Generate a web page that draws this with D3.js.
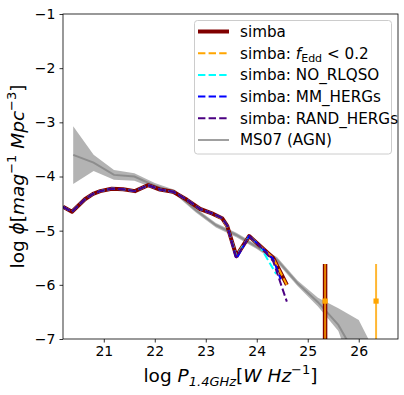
<!DOCTYPE html>
<html><head><meta charset="utf-8">
<script src="https://cdn.jsdelivr.net/npm/d3@7"></script>
<style>body{margin:0;background:#fff} svg{display:block;font-family:"DejaVu Sans",sans-serif}</style>
</head><body><svg id="c" width="404" height="395"></svg>
<script>
// ---- data ----
const simbaX = [20.2, 20.376, 20.63, 20.79, 20.93, 21.155, 21.38, 21.61, 21.87, 22.1, 22.36, 22.63, 22.89, 23.12, 23.32, 23.42, 23.6, 23.85, 24.06, 24.32, 24.59];
const simbaY = [-4.56, -4.65, -4.42, -4.32, -4.27, -4.225, -4.236, -4.27, -4.16, -4.24, -4.28, -4.43, -4.60, -4.68, -4.77, -4.91, -5.47, -5.10, -5.28, -5.50, -6.00];
const fEddX = [20.2, 20.376, 20.63, 20.79, 20.93, 21.155, 21.38, 21.61, 21.87, 22.1, 22.36, 22.63, 22.89, 23.12, 23.32, 23.42, 23.6, 23.85, 24.06, 24.32, 24.59];
const fEddY = [-4.56, -4.65, -4.42, -4.32, -4.27, -4.225, -4.236, -4.27, -4.16, -4.24, -4.28, -4.43, -4.60, -4.68, -4.78, -4.93, -5.47, -5.10, -5.28, -5.50, -6.00];
const noRlqsoX = [20.2, 20.376, 20.63, 20.79, 20.93, 21.155, 21.38, 21.61, 21.87, 22.1, 22.36, 22.63, 22.89, 23.12, 23.32, 23.42, 23.6, 23.85, 24.06, 24.38];
const noRlqsoY = [-4.56, -4.65, -4.42, -4.32, -4.27, -4.225, -4.236, -4.27, -4.16, -4.24, -4.28, -4.43, -4.60, -4.68, -4.77, -4.91, -5.47, -5.10, -5.28, -5.80];
const mmHergsX = [20.2, 20.376, 20.63, 20.79, 20.93, 21.155, 21.38, 21.61, 21.87, 22.1, 22.36, 22.63, 22.89, 23.12, 23.32, 23.42, 23.6, 23.85, 24.06, 24.32, 24.47];
const mmHergsY = [-4.56, -4.65, -4.42, -4.32, -4.27, -4.225, -4.236, -4.27, -4.16, -4.24, -4.28, -4.43, -4.60, -4.68, -4.77, -4.91, -5.52, -5.10, -5.28, -5.52, -5.90];
const randHergsX = [20.2, 20.376, 20.63, 20.79, 20.93, 21.155, 21.38, 21.61, 21.87, 22.1, 22.36, 22.63, 22.89, 23.12, 23.32, 23.42, 23.6, 23.85, 24.06, 24.32, 24.59];
const randHergsY = [-4.56, -4.65, -4.42, -4.32, -4.27, -4.225, -4.236, -4.27, -4.16, -4.24, -4.28, -4.43, -4.60, -4.68, -4.77, -4.91, -5.49, -5.10, -5.28, -5.56, -6.31];
const ms07X  = [20.4, 20.8, 21.2, 21.6, 22.0, 22.4, 22.8, 23.2, 23.6, 24.0, 24.4, 24.8, 25.2, 25.6, 26.0, 26.4];
const ms07Y  = [-3.60, -3.745, -3.97, -4.0, -4.17, -4.29, -4.62, -4.90, -5.08, -5.30, -5.54, -5.97, -6.32, -6.74, -7.4, -8.0];
const ms07Lo = [-4.14, -3.90, -4.06, -4.08, -4.22, -4.33, -4.66, -4.94, -5.12, -5.34, -5.59, -6.02, -6.40, -6.85, -7.9, -8.6];
const ms07Hi = [-3.07, -3.60, -3.88, -3.94, -4.12, -4.25, -4.58, -4.86, -5.04, -5.26, -5.49, -5.92, -6.24, -6.43, -6.65, -7.39];
const simbaErrX = [25.34], simbaErrY = [-6.30], simbaErrHi = [-5.615], simbaErrLo = [-8];
const fEddErrX = [25.34, 26.34], fEddErrY = [-6.30, -6.30], fEddErrHi = [-5.615, -5.615], fEddErrLo = [-8, -8];
const xTicks = [21, 22, 23, 24, 25, 26];
const yTicks = [-1, -2, -3, -4, -5, -6, -7];
const legendLabels = ["simba", "simba: fEdd", "simba: NO_RLQSO", "simba: MM_HERGs", "simba: RAND_HERGs", "MS07 (AGN)"];

// ---- layout ----
const L = 63, R = 398, T = 14, B = 339;
const svg = d3.select("#c");
const x = d3.scaleLinear().domain([20.2, 26.77]).range([L, R]);
const y = d3.scaleLinear().domain([-7, -1]).range([B, T]);

svg.append("clipPath").attr("id", "clip").append("rect")
  .attr("x", L).attr("y", T).attr("width", R - L).attr("height", B - T);
const plot = svg.append("g").attr("clip-path", "url(#clip)");

const zip = (xs, ys) => xs.map((v, i) => [v, ys[i]]);
const line = d3.line().x(d => x(d[0])).y(d => y(d[1]));

// MS07 band + line
const band = ms07X.map((v, i) => ({x: v, lo: ms07Lo[i], hi: ms07Hi[i]}));
plot.append("path").datum(band)
  .attr("d", d3.area().x(d => x(d.x)).y0(d => y(d.lo)).y1(d => y(d.hi)))
  .attr("fill", "#808080").attr("fill-opacity", 0.6);
plot.append("path").datum(zip(ms07X, ms07Y)).attr("d", line)
  .attr("fill", "none").attr("stroke", "#808080").attr("stroke-opacity", 0.75).attr("stroke-width", 2);

// simba lines
const dash = "7.4,3.2";
const series = [
  {xs: simbaX, ys: simbaY, color: "#800000", w: 4, dash: null},
  {xs: fEddX, ys: fEddY, color: "#ffa500", w: 2, dash},
  {xs: noRlqsoX, ys: noRlqsoY, color: "#00ffff", w: 2, dash},
  {xs: mmHergsX, ys: mmHergsY, color: "#0000ff", w: 2, dash},
  {xs: randHergsX, ys: randHergsY, color: "#4b0082", w: 2, dash},
];
series.forEach(s => {
  plot.append("path").datum(zip(s.xs, s.ys)).attr("d", line)
    .attr("fill", "none").attr("stroke", s.color).attr("stroke-width", s.w)
    .attr("stroke-dasharray", s.dash).attr("stroke-linejoin", "round");
});

// error bars
simbaErrX.forEach((v, i) => {
  plot.append("line").attr("x1", x(v)).attr("x2", x(v))
    .attr("y1", y(simbaErrHi[i])).attr("y2", y(simbaErrLo[i]))
    .attr("stroke", "#800000").attr("stroke-width", 4.5);
});
fEddErrX.forEach((v, i) => {
  plot.append("line").attr("x1", x(v)).attr("x2", x(v))
    .attr("y1", y(fEddErrHi[i])).attr("y2", y(fEddErrLo[i]))
    .attr("stroke", "#ffa500").attr("stroke-opacity", 0.8).attr("stroke-width", 2);
  plot.append("rect").attr("x", x(v) - 2.6).attr("y", y(fEddErrY[i]) - 2.6)
    .attr("width", 5.2).attr("height", 5.2).attr("fill", "#ffa500");
});

// axes
const xAxis = svg.append("g").attr("transform", `translate(0,${B})`)
  .call(d3.axisBottom(x).tickValues(xTicks).tickSize(3.5).tickPadding(4).tickFormat(d3.format("d")));
const yAxis = svg.append("g").attr("transform", `translate(${L},0)`)
  .call(d3.axisLeft(y).tickValues(yTicks).tickSize(3.5).tickPadding(4).tickFormat(d => d3.format("d")(d).replace("-", "\u2212")));
[xAxis, yAxis].forEach(a => {
  a.select(".domain").remove();
  a.selectAll("text").attr("font-size", 14).attr("fill", "#000").attr("font-family", "DejaVu Sans");
  a.selectAll("line").attr("stroke", "#000").attr("stroke-width", 0.8);
});
svg.append("rect").attr("x", L).attr("y", T).attr("width", R - L).attr("height", B - T)
  .attr("fill", "none").attr("stroke", "#000").attr("stroke-width", 0.8);

// axis labels
const xl = svg.append("text").attr("x", (L + R) / 2).attr("y", 382).attr("text-anchor", "middle")
  .attr("font-size", 18.5).attr("fill", "#000");
xl.append("tspan").text("log ");
xl.append("tspan").attr("font-style", "italic").text("P");
xl.append("tspan").attr("font-style", "italic").attr("font-size", 13).attr("dy", 4).text("1.4GHz");
xl.append("tspan").attr("dy", -4).text("[");
xl.append("tspan").attr("font-style", "italic").text("W Hz");
xl.append("tspan").attr("font-size", 13).attr("dy", -8).text("\u22121");
xl.append("tspan").attr("dy", 8).text("]");

const yl = svg.append("text").attr("transform", `translate(24,${(T + B) / 2}) rotate(-90)`)
  .attr("text-anchor", "middle").attr("font-size", 18.5).attr("fill", "#000");
yl.append("tspan").text("log ");
yl.append("tspan").attr("font-style", "italic").text("\u03d5");
yl.append("tspan").text("[");
yl.append("tspan").attr("font-style", "italic").text("mag");
yl.append("tspan").attr("font-size", 13).attr("dy", -8).text("\u22121");
yl.append("tspan").attr("dy", 8).attr("font-style", "italic").text(" Mpc");
yl.append("tspan").attr("font-size", 13).attr("dy", -8).text("\u22123");
yl.append("tspan").attr("dy", 8).text("]");

// legend
const lg = svg.append("g");
lg.append("rect").attr("x", 194.5).attr("y", 20.5).attr("width", 197).attr("height", 133.5)
  .attr("rx", 3).attr("fill", "#fff").attr("fill-opacity", 0.8).attr("stroke", "#cccccc").attr("stroke-width", 1);
const legendStyles = [
  {color: "#800000", w: 4, dash: null, op: 1},
  {color: "#ffa500", w: 2, dash, op: 1},
  {color: "#00ffff", w: 2, dash, op: 1},
  {color: "#0000ff", w: 2, dash, op: 1},
  {color: "#4b0082", w: 2, dash, op: 1},
  {color: "#808080", w: 2, dash: null, op: 0.75},
];
legendLabels.forEach((lab, i) => {
  const yy = 31.5 + i * 21.7;
  const st = legendStyles[i];
  lg.append("line").attr("x1", 198).attr("x2", 229).attr("y1", yy).attr("y2", yy)
    .attr("stroke", st.color).attr("stroke-width", st.w).attr("stroke-dasharray", st.dash).attr("stroke-opacity", st.op);
  const t = lg.append("text").attr("x", 240).attr("y", yy + 5.4).attr("font-size", 15.2).attr("fill", "#000");
  if (lab === "simba: fEdd") {
    t.append("tspan").text("simba: ");
    t.append("tspan").attr("font-style", "italic").text("f");
    t.append("tspan").attr("font-size", 11).attr("dy", 3).text("Edd");
    t.append("tspan").attr("dy", -3).text(" < 0.2");
  } else {
    t.text(lab);
  }
});
</script></body></html>
